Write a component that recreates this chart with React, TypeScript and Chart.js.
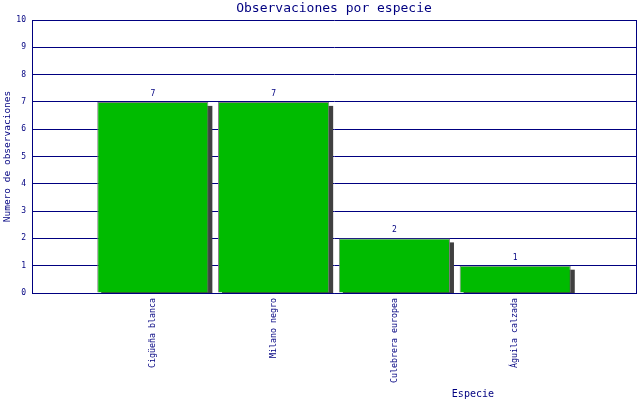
import React, { useEffect, useRef } from "react";
import { Chart, registerables } from "chart.js";

Chart.register(...registerables);

const TITLE = "Observaciones por especie";
const X_TITLE = "Especie";
const Y_TITLE = "Numero de observaciones";
const categories = ["", "Cigüeña blanca", "Milano negro", "Culebrera europea", "Águila calzada", ""];
const counts: (number | null)[] = [null, 7, 7, 2, 1, null];
const yMin = 0;
const yMax = 10;
const yStep = 1;

const NAVY = "#000080";
const MONO = "'DejaVu Sans Mono', 'Liberation Mono', monospace";

const shadowPlugin = {
  id: "barShadow",
  beforeDatasetsDraw(chart: any) {
    const { ctx, chartArea } = chart;
    const meta = chart.getDatasetMeta(0);
    ctx.save();
    ctx.beginPath();
    ctx.rect(chartArea.left, chartArea.top, chartArea.right - chartArea.left, chartArea.bottom - chartArea.top);
    ctx.clip();
    ctx.fillStyle = "#404040";
    meta.data.forEach((el: any) => {
      const p = el.getProps(["x", "y", "base", "width"], true);
      if (!p.width || !isFinite(p.y) || !isFinite(p.base)) return;
      ctx.fillRect(p.x - p.width / 2 + 4, p.y + 4, p.width, p.base - p.y);
    });
    ctx.restore();
  },
  afterDatasetsDraw(chart: any) {
    const { ctx, chartArea } = chart;
    const meta = chart.getDatasetMeta(0);
    const data = chart.data.datasets[0].data;
    ctx.save();
    ctx.fillStyle = NAVY;
    ctx.font = `8px ${MONO}`;
    ctx.textAlign = "center";
    ctx.textBaseline = "middle";
    meta.data.forEach((el: any, i: number) => {
      const v = data[i];
      if (v === null || v === undefined) return;
      const p = el.getProps(["x", "y"], true);
      ctx.fillText(String(v), p.x, p.y - 8);
    });
    // right frame line
    ctx.strokeStyle = NAVY;
    ctx.lineWidth = 1;
    ctx.beginPath();
    const rx = Math.round(chartArea.right) + 0.5;
    ctx.moveTo(rx, chartArea.top);
    ctx.lineTo(rx, chartArea.bottom + 0.5);
    ctx.stroke();
    // x axis title
    ctx.font = `10px ${MONO}`;
    ctx.fillText(X_TITLE, chartArea.left + (chartArea.right - chartArea.left) * 0.73, 394);
    ctx.restore();
  },
};

export default function App() {
  const ref = useRef<HTMLCanvasElement | null>(null);
  useEffect(() => {
    if (!ref.current) return;
    const chart = new Chart(ref.current, {
      type: "bar",
      data: {
        labels: categories,
        datasets: [
          {
            data: counts as any,
            backgroundColor: "#00BB00",
            borderColor: "#808080",
            borderWidth: 1,
            categoryPercentage: 1,
            barPercentage: 0.92,
          },
        ],
      },
      options: {
        responsive: false,
        animation: false,
        layout: { padding: { left: 0, right: 4, top: 0, bottom: 0 } },
        plugins: {
          legend: { display: false },
          tooltip: { enabled: false },
          title: {
            display: true,
            text: TITLE,
            color: NAVY,
            fullSize: false,
            font: { family: MONO, size: 13, weight: "normal" },
            padding: { top: 1, bottom: 3.4 },
          },
        },
        scales: {
          x: {
            type: "category",
            offset: false,
            grid: { display: false, drawTicks: false },
            border: { display: true, color: NAVY, width: 1 },
            ticks: {
              color: NAVY,
              autoSkip: false,
              minRotation: 90,
              maxRotation: 90,
              padding: 5,
              font: { family: MONO, size: 8.3 },
            },
            afterFit: (scale: any) => {
              scale.height = 107;
              scale.paddingLeft = 0;
              scale.paddingRight = 0;
            },
          },
          y: {
            min: yMin,
            max: yMax,
            grid: { color: NAVY, lineWidth: 1, drawTicks: false },
            border: { display: true, color: NAVY, width: 1 },
            ticks: {
              stepSize: yStep,
              color: NAVY,
              padding: 6,
              font: { family: MONO, size: 8 },
            },
            title: {
              display: true,
              text: Y_TITLE,
              color: NAVY,
              font: { family: MONO, size: 9.5 },
              padding: { top: 2, bottom: 0 },
            },
            afterFit: (scale: any) => {
              scale.width = 32;
              scale.paddingTop = 0;
              scale.paddingBottom = 0;
            },
          },
        },
      } as any,
      plugins: [shadowPlugin],
    });
    return () => chart.destroy();
  }, []);
  return (
    <div style={{ position: "absolute", left: 0, top: 0, width: 640, height: 400, background: "#fff" }}>
      <canvas ref={ref} width={640} height={400} style={{ display: "block" }} />
    </div>
  );
}
